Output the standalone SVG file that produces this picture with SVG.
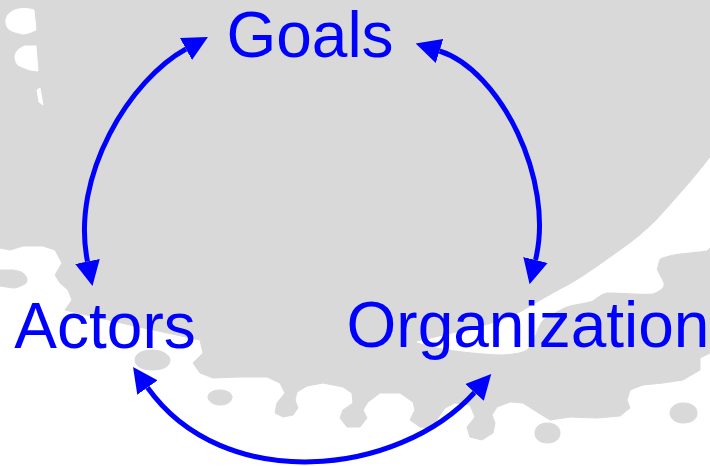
<svg xmlns="http://www.w3.org/2000/svg" width="710" height="466" viewBox="0 0 710 466">
  <style>
    .land { fill: #d9d9d9; stroke: #d9d9d9; stroke-width: 1; stroke-linejoin: round; }
    .sea { fill: #ffffff; stroke: #ffffff; stroke-width: 1; stroke-linejoin: round; }
    .conn { fill: none; stroke: #0000ff; stroke-width: 5; marker-start: url(#arrow); marker-end: url(#arrow); }
    .label { font-family: "Liberation Sans", Arial, sans-serif; font-size: 64px; fill: #0000ff; text-anchor: middle; }
  </style>
  <defs>
    <marker id="arrow" viewBox="0 0 25 25" refX="0" refY="12.5" markerUnits="userSpaceOnUse" markerWidth="25" markerHeight="25" orient="auto-start-reverse">
      <path d="M0,0 L25,12.5 L0,25 Z" fill="#0000ff"/>
    </marker>
  </defs>
  <rect width="710" height="466" fill="#ffffff"/>
  <g id="background">
    <path class="land" d="M0,0 L710,0 L710,353 L700,358 L700,370 L683,380 L663,383 L643,385 L630,390 L627,400 L630,408 L620,416 L597,418 L570,417 L550,420 L537,412 L523,403 L510,402 L497,407 L492,415 L495,423 L493,433 L482,440 L470,437 L467,427 L475,417 L470,405 L455,403 L445,408 L438,418 L432,428 L420,427 L410,420 L415,410 L413,402 L400,393 L380,393 L368,402 L363,410 L367,418 L360,427 L347,427 L340,418 L343,410 L353,403 L352,393 L343,387 L323,383 L307,386 L297,392 L295,400 L298,408 L293,415 L283,417 L275,413 L277,403 L285,393 L280,383 L267,377 L240,377 L213,378 L200,373 L193,363 L203,353 L200,340 L130,325 L65,310 L72,300 L68,290 L60,283 L55,275 L62,263 L55,250 L43,246 L23,246 L10,250 L0,248 Z"/>
    <path class="sea" d="M710,158 C695,178 675,200 657,220 C645,232 632,243 617,253 C600,265 580,280 560,290 C545,298 530,307 520,313 C505,320 490,325 480,327 C460,332 440,337 417,342 C430,346 445,349 463,351 C480,353 495,354 503,354 C515,353 522,352 527,349 C532,343 533,338 535,335 C538,326 541,320 545,318 C555,312 563,307 570,305 C580,303 587,302 593,300 C598,296 602,293 607,292 C625,292 640,294 653,293 C661,290 664,287 663,283 C660,275 655,270 657,267 C658,262 659,260 660,258 C668,255 673,254 680,253 C690,252 700,251 707,250 L710,247 Z"/>
    <path class="sea" d="M6,23 C5,17 9,12 15,10 C20,8 28,8 34,10 L36,30 C31,32 27,34 23,34 C17,33 12,31 10,30 C7,28 6,25 6,23 Z"/>
    <path class="sea" d="M15,57 C15,52 19,48 25,46 L36,46 L38,71 C35,71 32,70 30,70 C25,68 21,67 18,65 C16,63 15,60 15,57 Z"/>
    <path class="sea" d="M37,90 L40,88 L43,105 L39,102 Z"/>
    <path class="land" d="M0,270 L13,270 C19,271 22,272 23,273 C26,276 27,278 27,280 C27,283 25,284 23,285 C19,287 16,288 13,288 L0,286 Z"/>
    <path class="land" d="M135,360 C135,354 142,350 152,350 C162,350 170,355 170,360 C170,366 164,370 152,370 C142,370 135,366 135,360 Z"/>
    <path class="land" d="M208,397 C208,393 213,390 220,390 C228,390 232,394 232,397 C232,401 228,405 220,405 C213,405 208,401 208,397 Z"/>
    <path class="land" d="M535,433 C535,427 540,423 547,423 C555,423 560,427 560,433 C560,439 555,443 547,443 C540,443 535,439 535,433 Z"/>
    <path class="land" d="M670,413 C670,407 676,403 683,403 C692,403 697,407 697,413 C697,419 692,423 683,423 C676,423 670,419 670,413 Z"/>
  </g>
  <g id="connectors">
    <path class="conn" d="M186,49 C131,79 70,175 87.5,261.5"/>
    <path class="conn" d="M439.5,51 C500,70 555,180 535.5,260"/>
    <path class="conn" d="M147.5,387.5 C223.5,494.7 398.5,476.9 474.5,392.5"/>
  </g>
  <g id="goals">
    <text class="label" x="310" y="57">Goals</text>
  </g>
  <g id="actors">
    <text class="label" x="105" y="348">Actors</text>
  </g>
  <g id="organization">
    <text class="label" x="528" y="347">Organization</text>
  </g>
</svg>
